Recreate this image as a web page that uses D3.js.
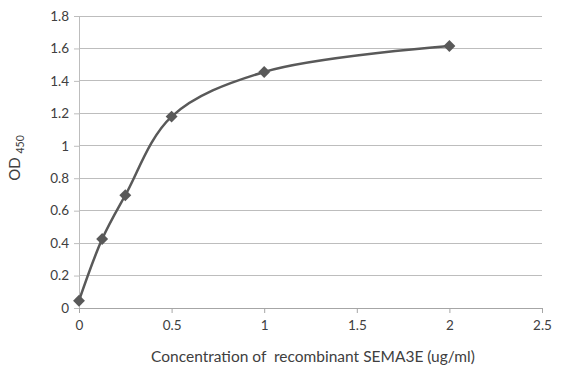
<!DOCTYPE html>
<html><head><meta charset="utf-8">
<script src="https://cdn.jsdelivr.net/npm/d3@7"></script>
<style>body{margin:0;background:#fff;} text{font-family:Lato, "Open Sans", sans-serif;}</style>
</head><body>
<svg id="c" width="567" height="380"></svg>
<script>
const concentration = [0, 0.125, 0.25, 0.5, 1, 2];
const od450 = [0.045, 0.425, 0.695, 1.18, 1.455, 1.615];
const xTicks = [0, 0.5, 1, 1.5, 2, 2.5];
const yTicks = [0, 0.2, 0.4, 0.6, 0.8, 1, 1.2, 1.4, 1.6, 1.8];

const svg = d3.select("#c");
const x = d3.scaleLinear().domain([0, 2.5]).range([79, 542]);
const y = d3.scaleLinear().domain([0, 1.8]).range([308, 16]);
const tc = "#404040";

// gridlines
svg.append("g").selectAll("line").data(yTicks.filter(d=>d>0)).join("line")
  .attr("x1", x(0)).attr("x2", x(2.5)).attr("y1", d=>y(d)).attr("y2", d=>y(d))
  .attr("stroke", "#bdbdbd").attr("stroke-width", 1).attr("shape-rendering","crispEdges");

// y axis
const ya = svg.append("g").attr("transform", `translate(${x(0)},0)`)
  .call(d3.axisLeft(y).tickValues(yTicks).tickFormat(d=>d3.format("")(+d.toFixed(1))).tickSize(5).tickPadding(5));
ya.select(".domain").attr("stroke", "#bdbdbd");
ya.selectAll(".tick line").attr("stroke", "#bdbdbd");
ya.selectAll("text").attr("fill", tc).style("font-size", "13.5px");

// x axis
const xa = svg.append("g").attr("transform", `translate(0,${y(0)})`)
  .call(d3.axisBottom(x).tickValues(xTicks).tickFormat(d=>String(d)).tickSize(5).tickPadding(7));
xa.select(".domain").attr("stroke", "#a6a6a6");
xa.selectAll(".tick line").attr("stroke", "#a6a6a6");
xa.selectAll("text").attr("fill", tc).style("font-size", "13.5px");

const pts = concentration.map((c,i)=>[c, od450[i]]);
const line = d3.line().x(d=>x(d[0])).y(d=>y(d[1])).curve(d3.curveCatmullRom.alpha(0.5));
svg.append("path").datum(pts).attr("d", line)
  .attr("fill","none").attr("stroke","#595959").attr("stroke-width",2.5);

svg.append("g").selectAll("path").data(pts).join("path")
  .attr("transform", d=>`translate(${x(d[0])},${y(d[1])})`)
  .attr("d", d3.symbol().type(d3.symbolDiamond2).size(90))
  .attr("fill","#595959");

svg.append("text").attr("x", 313).attr("y", 362).attr("text-anchor","middle")
  .attr("fill", tc).style("font-size","15.5px").style("white-space","pre")
  .text("Concentration of  recombinant SEMA3E (ug/ml)");

const yt = svg.append("text").attr("transform","translate(20,158) rotate(-90)").attr("text-anchor","middle")
  .attr("fill", tc).style("font-size","15px");
yt.append("tspan").text("OD ");
yt.append("tspan").attr("dy", 4).style("font-size","10.5px").text("450");
</script>
</body></html>
